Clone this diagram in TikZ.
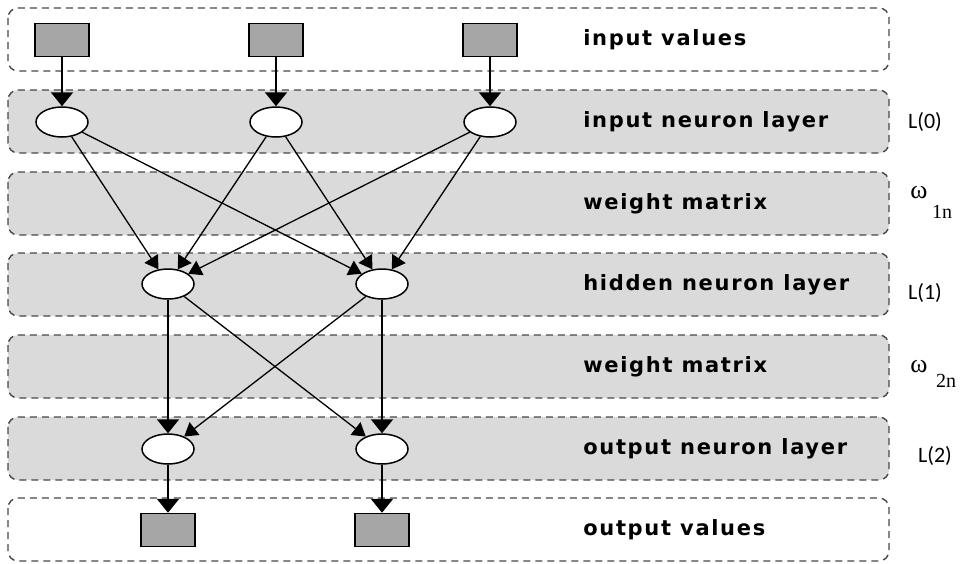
\documentclass[tikz,border=0pt]{standalone}
\usepackage{fontspec}
\setmainfont{DejaVu Sans}
\newfontfamily\bandfont[LetterSpace=8]{DejaVu Sans Bold}
\newfontfamily\levelfont{Carlito}
\newfontfamily\omegafont{Liberation Serif}
\usepackage{tikz}
\usetikzlibrary{arrows.meta,shapes.geometric,positioning}
\definecolor{bandgray}{RGB}{218,218,218}
\definecolor{valgray}{RGB}{166,166,166}

\begin{document}
\begin{tikzpicture}[x=1pt,y=-1pt
  ,semithick]
  \tikzstyle{band}=[draw=black!72, dash pattern=on 7pt off 5pt,
    line width=1.4pt, rounded corners=10pt]
  \tikzstyle{value}=[draw, fill=valgray, line width=1.5pt,
    minimum width=54pt, minimum height=33pt, inner sep=0pt]
  \tikzstyle{neuron}=[draw, fill=white, ellipse, line width=1.5pt,
    minimum width=52pt, minimum height=30pt, inner sep=0pt]
  \tikzstyle{bandtext}=[anchor=west, inner sep=0pt,
    font=\bandfont\fontsize{21}{24}\selectfont]
  \tikzstyle{level}=[inner sep=0pt, font=\levelfont\fontsize{22}{24}\selectfont]
  \tikzstyle{weight}=[inner sep=0pt, font=\omegafont\fontsize{26}{28}\selectfont]
  \tikzstyle{subs}=[inner sep=0pt, font=\omegafont\fontsize{20}{22}\selectfont]
  \tikzstyle{strong}=[-{Triangle[length=14pt,width=22pt]}, line width=2.2pt]
  \tikzstyle{weak}=[-{Triangle[length=13pt,width=16pt]}, line width=1.3pt]

  \useasboundingbox (0,0) rectangle (961,563);

  % the seven layer bands
  \foreach \top/\col in {8/white,90/bandgray,172/bandgray,253/bandgray,
                         335/bandgray,417/bandgray,498/white}
    \draw[band, fill=\col] (8,\top) rectangle (889,\top+63);

  % band texts
  \node[bandtext] (tin)  at (583,40)  {input values};
  \node[bandtext] (tinl) at (583,122) {input neuron layer};
  \node[bandtext] (tw1)  at (583,204) {weight matrix};
  \node[bandtext] (thl)  at (583,285) {hidden neuron layer};
  \node[bandtext] (tw2)  at (583,367) {weight matrix};
  \node[bandtext] (tonl) at (583,449) {output neuron layer};
  \node[bandtext] (tout) at (583,530) {output values};

  % labels on the right
  \node[level]  (l0) at (925,122) {L(0)};
  \node[weight] (w1) at (919,193) {ω};
  \node[subs]   (s1) at (942,212) {1n};
  \node[level]  (l1) at (925,293) {L(1)};
  \node[weight] (w2) at (919,367) {ω};
  \node[subs]   (s2) at (946,381) {2n};
  \node[level]  (l2) at (935,456) {L(2)};

  % input values and neurons
  \node[value]  (x1) at (62,40)  {};
  \node[value]  (x2) at (276,40) {};
  \node[value]  (x3) at (490,40) {};
  \node[neuron] (i1) at (62,122)  {};
  \node[neuron] (i2) at (276,122) {};
  \node[neuron] (i3) at (490,122) {};
  % hidden
  \node[neuron] (h1) at (168,284) {};
  \node[neuron] (h2) at (382,284) {};
  % output
  \node[neuron] (o1) at (168,449) {};
  \node[neuron] (o2) at (382,449) {};
  \node[value]  (y1) at (168,530) {};
  \node[value]  (y2) at (382,530) {};

  \path[strong]
  (x1) edge (i1)
  (x2) edge (i2)
  (x3) edge (i3)
  (h1) edge (o1)
  (h2) edge (o2)
  (o1) edge (y1)
  (o2) edge (y2);
  \path[weak]
  (i1) edge (h1)
  (i1) edge (h2)
  (i2) edge (h1)
  (i2) edge (h2)
  (i3) edge (h1)
  (i3) edge (h2)
  (h1) edge (o2)
  (h2) edge (o1);

\end{tikzpicture}
\end{document}
